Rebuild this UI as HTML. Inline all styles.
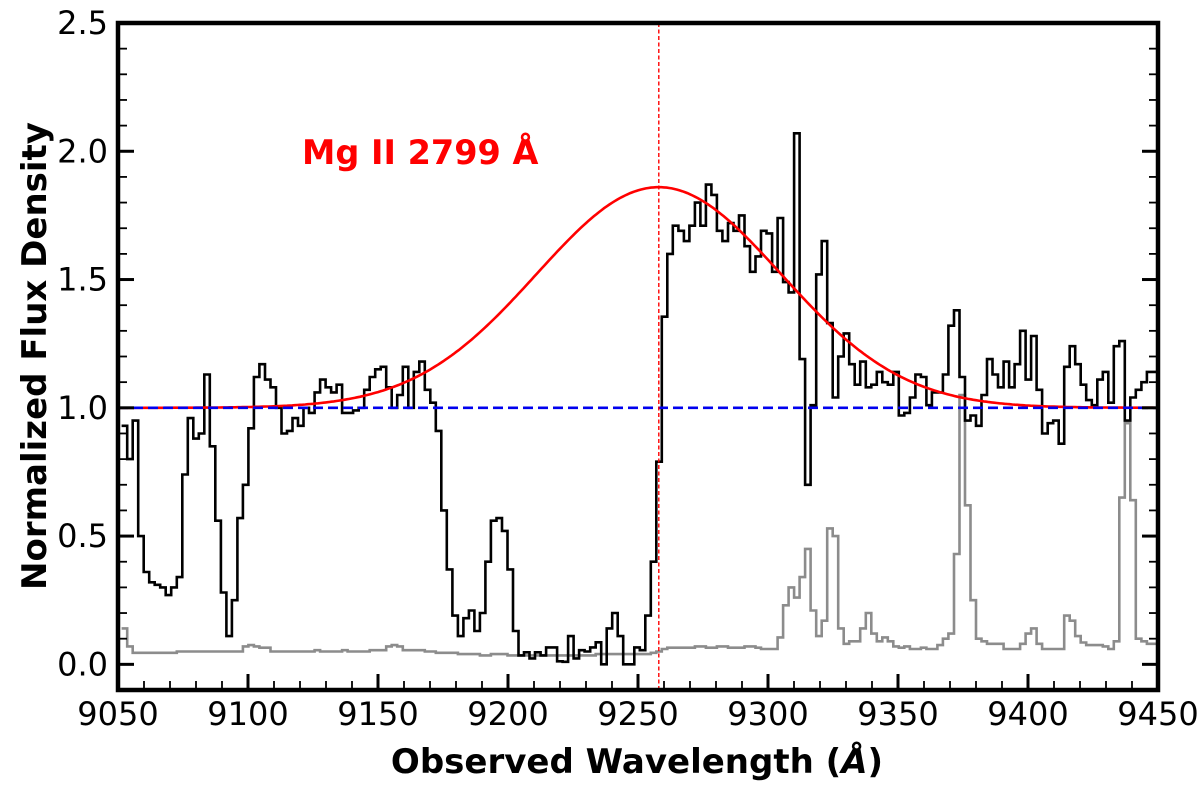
<!DOCTYPE html>
<html><head><meta charset="utf-8"><style>
html,body{margin:0;padding:0;background:#fff;}
svg{display:block;font-family:"DejaVu Sans","Liberation Sans",sans-serif;}
</style></head><body>
<svg id="chart" width="1200" height="786" viewBox="0 0 1200 786" xmlns="http://www.w3.org/2000/svg">
<defs><clipPath id="plotclip"><rect x="118" y="23" width="1040" height="667"/></clipPath></defs>
<g id="plot" clip-path="url(#plotclip)"></g>
<g id="axes"></g>
<text x="302" y="164" fill="#ff0000" font-weight="bold" font-size="33.5">Mg II 2799 Å</text>
<text x="637" y="773" text-anchor="middle" font-weight="bold" font-size="34">Observed Wavelength (<tspan font-style="italic">Å</tspan>)</text>
<text transform="translate(46,356) rotate(-90)" text-anchor="middle" font-weight="bold" font-size="34">Normalized Flux Density</text>
</svg>
<script>
const binStart = 9051.4;
const binWidth = 2.12;
const flux = [0.93,0.80,0.95,0.50,0.36,0.32,0.31,0.30,0.27,0.30,0.34,0.74,0.96,0.88,0.90,1.13,0.85,0.56,0.28,0.11,
0.25,0.57,0.70,0.92,1.12,1.17,1.11,1.08,1.00,0.90,0.91,0.96,0.93,1.00,0.98,1.06,1.11,1.08,1.06,1.09,
0.98,0.98,0.99,1.00,1.07,1.12,1.15,1.16,1.08,1.00,1.05,1.16,1.00,1.14,1.18,1.07,1.02,0.91,0.60,0.37,
0.19,0.11,0.18,0.21,0.13,0.20,0.40,0.56,0.57,0.52,0.37,0.13,0.035,0.047,0.023,0.047,0.035,0.066,0.066,0.012,
0.01,0.11,0.023,0.055,0.05,0.066,0.086,0.0,0.14,0.20,0.11,0.0,0.0,0.066,0.055,0.19,0.40,0.79,1.355,1.60,
1.71,1.69,1.65,1.71,1.80,1.71,1.87,1.83,1.69,1.65,1.72,1.69,1.75,1.63,1.53,1.59,1.69,1.68,1.53,1.74,
1.49,1.45,2.07,1.19,0.70,1.01,1.52,1.65,1.33,1.04,1.20,1.29,1.17,1.09,1.18,1.08,1.09,1.14,1.10,1.09,
1.14,0.97,0.98,1.04,1.13,1.12,1.01,1.06,1.06,1.13,1.32,1.38,1.12,0.95,0.97,0.93,1.05,1.19,1.13,1.08,
1.18,1.08,1.17,1.30,1.11,1.28,1.07,0.90,0.94,0.95,0.86,1.16,1.24,1.17,1.09,1.03,1.01,1.11,1.14,1.02,
1.24,1.26,0.95,1.04,1.07,1.10,1.14,1.14];
const errorFlux = [0.14,0.07,0.045,0.045,0.045,0.045,0.045,0.045,0.045,0.045,0.05,0.05,0.05,0.05,0.05,0.05,0.05,0.05,0.05,0.05,
0.05,0.05,0.07,0.075,0.07,0.065,0.065,0.05,0.05,0.05,0.05,0.05,0.05,0.05,0.05,0.055,0.05,0.05,0.05,0.05,
0.055,0.05,0.05,0.05,0.05,0.055,0.055,0.055,0.07,0.075,0.07,0.055,0.055,0.055,0.055,0.05,0.05,0.045,0.045,0.045,
0.045,0.04,0.04,0.04,0.04,0.035,0.035,0.04,0.04,0.04,0.035,0.035,0.035,0.035,0.035,0.035,0.035,0.035,0.035,0.035,
0.035,0.035,0.035,0.035,0.035,0.035,0.04,0.04,0.04,0.04,0.04,0.04,0.04,0.04,0.04,0.04,0.045,0.05,0.06,0.065,
0.065,0.065,0.065,0.065,0.07,0.07,0.065,0.065,0.07,0.07,0.065,0.065,0.065,0.07,0.07,0.065,0.06,0.06,0.06,0.105,
0.23,0.30,0.26,0.34,0.45,0.21,0.11,0.17,0.53,0.50,0.14,0.08,0.09,0.09,0.14,0.20,0.12,0.09,0.105,0.09,
0.07,0.065,0.07,0.06,0.06,0.065,0.06,0.06,0.075,0.10,0.12,0.43,1.05,0.62,0.25,0.10,0.09,0.08,0.08,0.08,
0.06,0.06,0.06,0.08,0.12,0.14,0.08,0.06,0.06,0.06,0.06,0.19,0.17,0.11,0.085,0.075,0.075,0.075,0.07,0.06,
0.09,0.65,0.94,0.64,0.10,0.09,0.08,0.08];
const lineCenter = 9258;
const lineAmp = 0.86;
const lineSigma = 47;
const continuum = 1.0;
const xTicks = [9050,9100,9150,9200,9250,9300,9350,9400,9450];
const yTicks = [0.0,0.5,1.0,1.5,2.0,2.5];

const NS='http://www.w3.org/2000/svg';
const X0=118, X1=1158, Y0=690, Y1=23, XMIN=9050, XMAX=9450, YMIN=-0.1, YMAX=2.5;
const sx = v => X0 + (v-XMIN)/(XMAX-XMIN)*(X1-X0);
const sy = v => Y0 - (v-YMIN)/(YMAX-YMIN)*(Y0-Y1);
const plot=document.getElementById('plot'), axes=document.getElementById('axes');
function mk(tag, attrs, parent){const e=document.createElementNS(NS,tag);for(const k in attrs)e.setAttribute(k,attrs[k]);parent.appendChild(e);return e;}
function stepPath(vals){
  let d='';
  vals.forEach((v,i)=>{const a=sx(binStart+i*binWidth), b=sx(binStart+(i+1)*binWidth), y=sy(v);
    d += (i===0?'M':'L')+a.toFixed(1)+','+y.toFixed(1)+'L'+b.toFixed(1)+','+y.toFixed(1);});
  return d;
}
const ep = mk('path',{d:stepPath(errorFlux),fill:'none',stroke:'#8c8c8c','stroke-width':2.6},plot);


const fp = mk('path',{d:stepPath(flux),fill:'none',stroke:'#000','stroke-width':2.6},plot);


let gd='';
for(let w=XMIN; w<=XMAX; w+=1){const v=continuum+lineAmp*Math.exp(-((w-lineCenter)**2)/(2*lineSigma*lineSigma)); gd+=(w===XMIN?'M':'L')+sx(w).toFixed(1)+','+sy(v).toFixed(1);}
const gp = mk('path',{d:gd,fill:'none',stroke:'#ff0000','stroke-width':2.6},plot);


const cl = mk('line',{x1:X0,x2:X1,y1:sy(continuum),y2:sy(continuum),stroke:'#0000ee','stroke-width':2.6,'stroke-dasharray':'10,5'},plot);


const vl = mk('line',{x1:sx(lineCenter),x2:sx(lineCenter),y1:Y1,y2:Y0,stroke:'#ff0000','stroke-width':1.4,'stroke-dasharray':'4,2.5'},plot);


for(let w=XMIN; w<=XMAX; w+=10){const major=(w%50===0); const x=sx(w);
  const t=mk('line',{x1:x,x2:x,y1:Y0,y2:Y0-(major?16:9),stroke:'#000','stroke-width':major?3:1.8},axes);
  
  }
xTicks.forEach(w=>{const t=mk('text',{x:sx(w),y:725,'text-anchor':'middle','font-size':32},axes);t.textContent=w;
  
  });
for(let k=-1;k<=25;k++){const v=k/10, y=sy(v), major=(k%5===0);
  [[X0,1],[X1,-1]].forEach(([x,s])=>{const t=mk('line',{x1:x,x2:x+s*(major?16:9),y1:y,y2:y,stroke:'#000','stroke-width':major?3:1.8},axes);
    
    });}
yTicks.forEach(v=>{const t=mk('text',{x:108,y:sy(v)+11,'text-anchor':'end','font-size':32},axes);t.textContent=v.toFixed(1);
  
  });
const fr = mk('rect',{x:X0,y:Y1,width:X1-X0,height:Y0-Y1,fill:'none',stroke:'#000','stroke-width':4.5},axes);


</script>
</body></html>
